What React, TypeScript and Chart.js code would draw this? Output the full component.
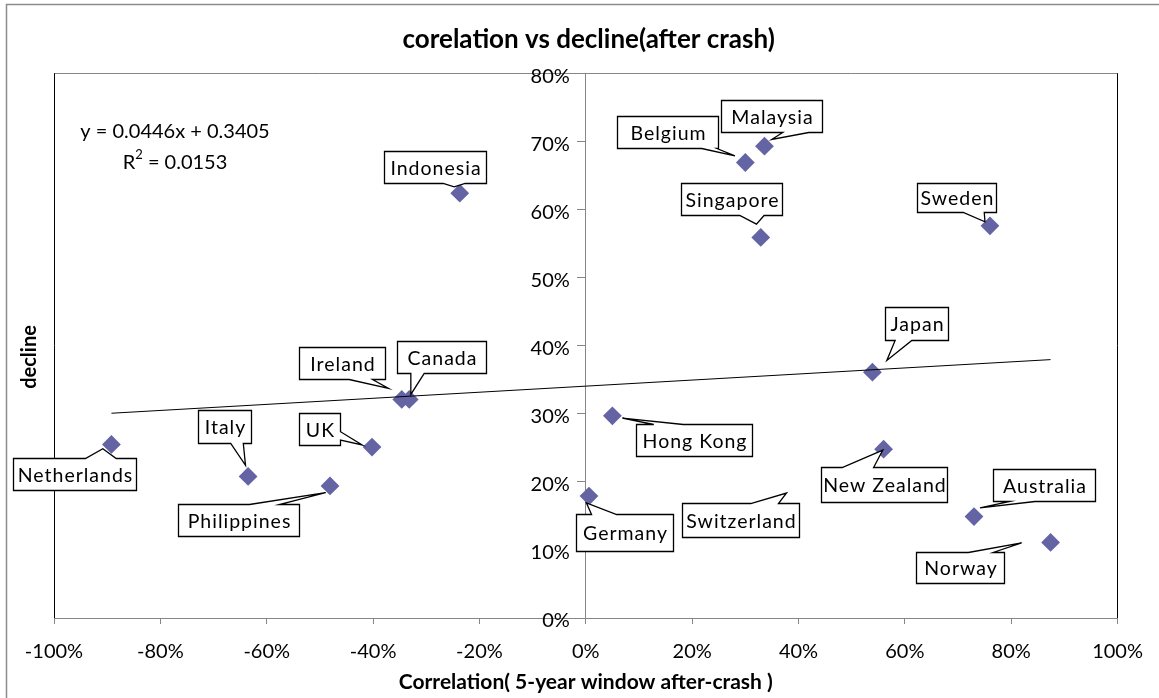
import { useEffect, useRef } from 'react';
import { Chart, registerables } from 'chart.js';

Chart.register(...registerables);

// ---------- data ----------
const countries = [
  'Netherlands', 'Italy', 'Philippines', 'UK', 'Ireland', 'Canada', 'Indonesia',
  'Germany', 'Hong Kong', 'Switzerland', 'New Zealand', 'Australia', 'Norway',
  'Japan', 'Singapore', 'Sweden', 'Belgium', 'Malaysia',
];
const correlation = [
  -0.892, -0.635, -0.481, -0.402, -0.346, -0.332, -0.237,
  0.006, 0.050, 0.382, 0.560, 0.730, 0.874,
  0.539, 0.329, 0.760, 0.300, 0.336,
];
const decline = [
  0.255, 0.208, 0.194, 0.251, 0.321, 0.321, 0.624,
  0.179, 0.297, 0.178, 0.248, 0.149, 0.111,
  0.361, 0.559, 0.576, 0.669, 0.693,
];
const hiddenMarkers = ['Switzerland'];
const xTickValues = [-1, -0.8, -0.6, -0.4, -0.2, 0, 0.2, 0.4, 0.6, 0.8, 1];
const yTickValues = [0, 0.1, 0.2, 0.3, 0.4, 0.5, 0.6, 0.7, 0.8];
const trendSlope = 0.0446;
const trendIntercept = 0.3405;
const rSquared = '0.0153';
const chartTitle = 'corelation vs decline(after crash)';
const xAxisTitle = 'Correlation( 5-year window after-crash )';
const yAxisTitle = 'decline';

// ---------- callout layout (pixel offsets relative to the marker) ----------
type Side = 'top' | 'bottom' | 'left' | 'right';
type Callout = { box: [number, number, number, number]; side: Side; base: [number, number]; tip: [number, number] };
const calloutLayout: Record<string, Callout> = {
  Netherlands: { box: [-98.4, 13.3, 123.2, 31.7], side: 'top', base: [-26, 4.8], tip: [-8.6, 4.3] },
  Italy: { box: [-50.1, -66, 52.7, 33.3], side: 'bottom', base: [-17.4, -4.8], tip: [-2.6, -11] },
  Philippines: { box: [-152.4, 18.3, 121.3, 31.7], side: 'top', base: [-80.5, -50.8], tip: [-4.4, 6.7] },
  UK: { box: [-73.2, -33.8, 41, 32], side: 'right', base: [-15.4, -7.1], tip: [-9.8, -2.1] },
  Ireland: { box: [-102.6, -52.5, 85.6, 31.5], side: 'bottom', base: [-52.6, -29.3], tip: [-13.3, -11] },
  Canada: { box: [-12.7, -58.3, 89.3, 31.6], side: 'bottom', base: [1.6, 15], tip: [1.6, -5] },
  Indonesia: { box: [-75.6, -42.6, 101.6, 32], side: 'bottom', base: [-16.6, 5.4], tip: [-5.6, -6.3] },
  Germany: { box: [-12.9, 18.3, 96.7, 37], side: 'top', base: [2.6, 27.7], tip: [-2.6, 6.7] },
  'Hong Kong': { box: [23.3, 8, 116.3, 32], side: 'top', base: [41.4, 70.9], tip: [10, 2.4] },
  Switzerland: { box: [-107.2, 5.8, 116.6, 33.7], side: 'top', base: [-38.2, -10.5], tip: [-2.4, -3.8] },
  'New Zealand': { box: [-62.8, 18.3, 126.3, 35], side: 'top', base: [-41.4, -10], tip: [-0.8, 1] },
  Australia: { box: [18.7, -48, 101.6, 32.4], side: 'bottom', base: [36, 61], tip: [6, -8.6] },
  Norway: { box: [-134.3, 9.4, 87.5, 31.3], side: 'top', base: [-82.2, -57.5], tip: [-29, 0.4] },
  Japan: { box: [12.7, -65, 63, 33.3], side: 'bottom', base: [22.7, 39.4], tip: [14.4, -11.7] },
  Singapore: { box: [-80, -54.6, 101, 32.3], side: 'bottom', base: [-21, 3.3], tip: [-4.3, -13.3] },
  Sweden: { box: [-72.7, -43, 79.4, 29], side: 'bottom', base: [-26.7, -5.7], tip: [-5, -4] },
  Belgium: { box: [-128.7, -46, 101.3, 32.3], side: 'bottom', base: [-43.6, -28.4], tip: [-10.4, -6.7] },
  Malaysia: { box: [-43.3, -46, 101.4, 31.7], side: 'bottom', base: [18.3, 44.3], tip: [7.3, -6.7] },
};

const FONT = 'Lato';
const markerColor = '#6464A4';
const axisGray = '#868686';

const pct = (v: number) => `${Math.round(v * 100)}%`;

const backgroundPlugin = {
  id: 'bg',
  beforeDraw(chart: any) {
    const ctx = chart.ctx;
    ctx.save();
    ctx.fillStyle = '#fff';
    ctx.fillRect(0, 0, chart.width, chart.height);
    ctx.strokeStyle = '#8c8c8c';
    ctx.lineWidth = 1.5;
    ctx.strokeRect(6.5, 4.5, chart.width + 20, chart.height + 20);
    ctx.restore();
  },
  beforeDatasetsDraw(chart: any) {
    const { ctx, chartArea: a } = chart;
    ctx.save();
    ctx.lineWidth = 1;
    ctx.strokeStyle = axisGray;
    ctx.beginPath();
    ctx.moveTo(a.left, Math.round(a.top) + 0.5);
    ctx.lineTo(a.right, Math.round(a.top) + 0.5);
    ctx.stroke();
    ctx.strokeStyle = '#000';
    ctx.beginPath();
    ctx.moveTo(Math.round(a.left) + 0.5, a.top);
    ctx.lineTo(Math.round(a.left) + 0.5, a.bottom);
    ctx.moveTo(Math.round(a.right) - 0.5, a.top);
    ctx.lineTo(Math.round(a.right) - 0.5, a.bottom);
    ctx.stroke();
    ctx.restore();
  },
};

const overlayPlugin = {
  id: 'overlay',
  afterDatasetsDraw(chart: any) {
    const ctx = chart.ctx;
    const meta = chart.getDatasetMeta(1);
    ctx.save();
    meta.data.forEach((el: any, i: number) => {
      const name = countries[i];
      const c = calloutLayout[name];
      if (!c) return;
      const px = el.x;
      const py = el.y;
      const x = Math.round(px + c.box[0]) + 0.5;
      const y = Math.round(py + c.box[1]) + 0.5;
      const w = Math.round(c.box[2]);
      const h = Math.round(c.box[3]);
      const tx = px + c.tip[0];
      const ty = py + c.tip[1];
      ctx.beginPath();
      ctx.moveTo(x, y);
      if (c.side === 'top') {
        ctx.lineTo(px + c.base[0], y);
        ctx.lineTo(tx, ty);
        ctx.lineTo(px + c.base[1], y);
      }
      ctx.lineTo(x + w, y);
      if (c.side === 'right') {
        ctx.lineTo(x + w, py + c.base[0]);
        ctx.lineTo(tx, ty);
        ctx.lineTo(x + w, py + c.base[1]);
      }
      ctx.lineTo(x + w, y + h);
      if (c.side === 'bottom') {
        ctx.lineTo(px + c.base[1], y + h);
        ctx.lineTo(tx, ty);
        ctx.lineTo(px + c.base[0], y + h);
      }
      ctx.lineTo(x, y + h);
      if (c.side === 'left') {
        ctx.lineTo(x, py + c.base[1]);
        ctx.lineTo(tx, ty);
        ctx.lineTo(x, py + c.base[0]);
      }
      ctx.closePath();
      ctx.fillStyle = '#fff';
      ctx.fill();
      ctx.strokeStyle = '#000';
      ctx.lineWidth = 1.3;
      ctx.lineJoin = 'miter';
      ctx.stroke();
      ctx.fillStyle = '#000';
      ctx.font = `19.5px ${FONT}`;
      (ctx as any).letterSpacing = '1px';
      ctx.textAlign = 'center';
      ctx.textBaseline = 'middle';
      ctx.fillText(name, x + w / 2 + 0.5, y + h / 2 + 1);
      (ctx as any).letterSpacing = '0px';
    });
    ctx.restore();
  },
  afterDraw(chart: any) {
    const ctx = chart.ctx;

    // y-axis tick labels, placed through the y scale
    const ys = chart.scales.y;
    const xs = chart.scales.x;
    const axisX = xs.getPixelForValue(0);
    ctx.save();
    ctx.fillStyle = '#000';
    ctx.font = `20px ${FONT}`;
    ctx.textAlign = 'right';
    ctx.textBaseline = 'middle';
    ys.ticks.forEach((t: any) => {
      ctx.fillText(pct(t.value), axisX - 16, ys.getPixelForValue(t.value) + 3);
    });
    ctx.restore();

    // y-axis title
    ctx.save();
    ctx.fillStyle = '#000';
    ctx.font = `bold 20px ${FONT}`;
    ctx.textAlign = 'center';
    ctx.textBaseline = 'middle';
    ctx.translate(29.5, 357);
    ctx.rotate(-Math.PI / 2);
    ctx.fillText(yAxisTitle, 0, 0);
    ctx.restore();

    // trendline equation
    ctx.save();
    ctx.fillStyle = '#000';
    ctx.textBaseline = 'middle';
    ctx.textAlign = 'center';
    ctx.font = `20px ${FONT}`;
    const cx = 175;
    const sign = trendIntercept >= 0 ? '+' : '-';
    ctx.fillText(`y = ${trendSlope}x ${sign} ${Math.abs(trendIntercept)}`, cx, 131.5);
    ctx.textAlign = 'left';
    const rest = ` = ${rSquared}`;
    const wR = ctx.measureText('R').width;
    const wRest = ctx.measureText(rest).width;
    ctx.font = `13px ${FONT}`;
    const w2 = ctx.measureText('2').width;
    const start = cx - (wR + w2 + wRest) / 2;
    ctx.font = `20px ${FONT}`;
    ctx.fillText('R', start, 163);
    ctx.font = `13px ${FONT}`;
    ctx.fillText('2', start + wR, 155);
    ctx.font = `20px ${FONT}`;
    ctx.fillText(rest, start + wR + w2, 163);
    ctx.restore();
  },
};

export default function App() {
  const ref = useRef<HTMLCanvasElement | null>(null);

  useEffect(() => {
    if (!ref.current) return;
    const points = countries.map((_, i) => ({ x: correlation[i], y: decline[i] }));
    const radii = countries.map((c) => (hiddenMarkers.includes(c) ? 0 : 9.4));
    const visibleX = correlation.filter((_, i) => !hiddenMarkers.includes(countries[i]));
    const xMin = Math.min(...visibleX);
    const xMax = Math.max(...visibleX);
    const trend = [
      { x: xMin, y: trendSlope * xMin + trendIntercept },
      { x: xMax, y: trendSlope * xMax + trendIntercept },
    ];

    const tickFont = { family: FONT, size: 20 };

    const chart = new Chart(ref.current, {
      type: 'scatter',
      data: {
        datasets: [
          {
            type: 'line',
            label: 'trend',
            data: trend,
            borderColor: '#000',
            borderWidth: 1,
            pointRadius: 0,
            fill: false,
            tension: 0,
            order: 0,
          } as any,
          {
            type: 'scatter',
            label: 'decline',
            data: points,
            pointStyle: 'rectRot',
            pointRadius: radii,
            pointHoverRadius: radii,
            backgroundColor: markerColor,
            borderColor: markerColor,
            borderWidth: 0,
            order: 1,
          } as any,
        ],
      },
      options: {
        animation: false,
        responsive: false,
        devicePixelRatio: 1,
        events: [],
        layout: { padding: { left: 54, right: 35.7, top: 0, bottom: 0 } },
        plugins: {
          legend: { display: false },
          tooltip: { enabled: false },
          title: {
            display: true,
            text: chartTitle,
            color: '#000',
            font: { family: FONT, size: 26, weight: 'bold', lineHeight: 1.2 },
            padding: { top: 24.4, bottom: 17.7 },
          },
        },
        scales: {
          x: {
            type: 'linear',
            position: 'bottom',
            min: -1,
            max: 1,
            afterBuildTicks: (s: any) => {
              s.ticks = xTickValues.map((v) => ({ value: v }));
            },
            afterFit: (s: any) => {
              s.height = 80;
            },
            ticks: {
              callback: (v: any) => pct(Number(v)),
              font: tickFont,
              color: '#000',
              padding: 16,
              maxRotation: 0,
              autoSkip: false,
            },
            grid: { drawOnChartArea: false, tickLength: 6, color: axisGray },
            border: { color: axisGray, width: 1 },
            title: {
              display: true,
              text: xAxisTitle,
              color: '#000',
              font: { family: FONT, size: 21, weight: 'bold', lineHeight: 1.2 },
              padding: { top: 0, bottom: 3.4 },
            },
          } as any,
          y: {
            type: 'linear',
            position: { x: 0 },
            min: 0,
            max: 0.8,
            afterBuildTicks: (s: any) => {
              s.ticks = yTickValues.map((v) => ({ value: v }));
            },
            ticks: { display: false },
            grid: { drawOnChartArea: false, drawTicks: true, tickLength: 8, color: axisGray },
            border: { color: axisGray, width: 1 },
          } as any,
        },
      } as any,
      plugins: [backgroundPlugin, overlayPlugin],
    });
    return () => chart.destroy();
  }, []);

  return (
    <div style={{ position: 'absolute', left: 0, top: 0, width: 1159, height: 698 }}>
      <canvas ref={ref} width={1159} height={698} style={{ display: 'block' }} />
    </div>
  );
}
